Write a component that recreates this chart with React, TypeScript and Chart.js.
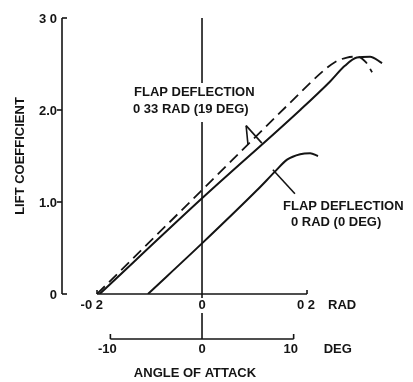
import React, { useEffect, useRef } from "react";
import { Chart, registerables } from "chart.js";

Chart.register(...registerables);

// ---- Data (angle of attack in rad, lift coefficient) ----
const flap0Alpha = [-0.103, 0, 0.105, 0.139, 0.162, 0.187, 0.206, 0.221];
const flap0CL = [0, 0.55, 1.13, 1.33, 1.46, 1.52, 1.53, 1.5];

const flap19Alpha = [-0.195, 0, 0.187, 0.244, 0.272, 0.295, 0.32, 0.343];
const flap19CL = [0, 1.04, 2.0, 2.31, 2.48, 2.57, 2.58, 2.51];

const flap19DashAlpha = [-0.2, 0, 0.168, 0.23, 0.253, 0.276, 0.295, 0.312, 0.324];
const flap19DashCL = [0, 1.13, 2.08, 2.42, 2.52, 2.57, 2.58, 2.52, 2.41];

// ---- Axis ticks ----
const clTicks = [0, 1, 2, 3];
const clTickLabels = ["0", "1.0", "2.0", "3 0"];
const radTicks = [-0.2, 0, 0.2];
const radTickLabels = ["-0 2", "0", "0 2"];
const degTicks = [-10, 0, 10];
const degTickLabels = ["-10", "0", "10"];

// ---- Texts ----
const yTitle = "LIFT COEFFICIENT";
const xTitle = "ANGLE OF ATTACK";
const radUnit = "RAD";
const degUnit = "DEG";
const label19 = ["FLAP DEFLECTION", "0 33 RAD (19 DEG)"];
const label0 = ["FLAP DEFLECTION", "0 RAD (0 DEG)"];

// leader line anchors in data space [alpha, CL]
const leader19Apex = [0.084, 1.83];
const leader19Feet = [
  [0.0876, 1.62],
  [0.114, 1.64],
];
const leader0 = [
  [0.135, 1.35],
  [0.177, 1.09],
];

const INK = "#141414";
const FONT = "bold 13px 'Liberation Sans', Arial, sans-serif";

const pts = (xs: number[], ys: number[]) => xs.map((x, i) => ({ x, y: ys[i] }));

const axesPlugin = {
  id: "engAxes",
  afterDatasetsDraw(chart: any) {
    const ctx: CanvasRenderingContext2D = chart.ctx;
    const xs = chart.scales.x;
    const ys = chart.scales.y;
    const X = (v: number) => xs.getPixelForValue(v);
    const Y = (v: number) => ys.getPixelForValue(v);
    const D = (d: number) => X((d * Math.PI) / 180);
    const line = (x1: number, y1: number, x2: number, y2: number) => {
      ctx.beginPath();
      ctx.moveTo(x1, y1);
      ctx.lineTo(x2, y2);
      ctx.stroke();
    };
    ctx.save();
    ctx.strokeStyle = INK;
    ctx.fillStyle = INK;
    ctx.lineWidth = 1.6;
    ctx.font = FONT;

    // Y axis
    const ax = chart.chartArea.left;
    line(ax, Y(3), ax, Y(0));
    line(ax, Y(3), ax + 5, Y(3));
    line(ax, Y(0), ax + 5, Y(0));
    [1, 2].forEach((v) => line(ax - 5, Y(v), ax, Y(v)));
    ctx.textAlign = "right";
    ctx.textBaseline = "middle";
    clTicks.forEach((v, i) => ctx.fillText(clTickLabels[i], ax - 5, Y(v) + 1));

    // Y title
    ctx.save();
    ctx.translate(20, (Y(3) + Y(0)) / 2);
    ctx.rotate(-Math.PI / 2);
    ctx.textAlign = "center";
    ctx.fillText(yTitle, 0, 0);
    ctx.restore();

    // RAD axis
    const ry = Y(0);
    const r0 = X(radTicks[0]);
    const r1 = X(radTicks[radTicks.length - 1]);
    line(r0, ry, r1, ry);
    line(r0, ry, r0, ry - 4);
    line(r1, ry, r1, ry - 4);
    ctx.textBaseline = "middle";
    const ly = ry + 11;
    ctx.textAlign = "right";
    ctx.fillText(radTickLabels[0], r0 + 6, ly);
    ctx.textAlign = "center";
    ctx.fillText(radTickLabels[1], X(radTicks[1]), ly);
    ctx.textAlign = "right";
    ctx.fillText(radTickLabels[2], r1 + 8, ly);
    ctx.textAlign = "left";
    ctx.fillText(radUnit, r1 + 21, ly);

    // DEG axis
    const dy = ry + 45;
    const d0 = D(degTicks[0]);
    const d1 = D(degTicks[degTicks.length - 1]);
    line(d0, dy, d1, dy);
    line(d0, dy, d0, dy - 5);
    line(d1, dy, d1, dy - 5);
    ctx.textAlign = "center";
    degTicks.forEach((d, i) => ctx.fillText(degTickLabels[i], D(d) - (d === 0 ? 0 : 3), dy + 10));
    ctx.textAlign = "left";
    ctx.fillText(degUnit, d1 + 30, dy + 10);
    ctx.textAlign = "center";
    ctx.fillText(xTitle, 195, dy + 34);

    // zero line
    const zx = X(0);
    line(zx, Y(3), zx, 83);
    line(zx, 122, zx, ry + 4);
    line(zx, ry + 19, zx, dy);

    // labels
    ctx.textAlign = "left";
    ctx.fillText(label19[0], 134, 92);
    ctx.fillText(label19[1], 133, 109);
    ctx.fillText(label0[0], 283, 206);
    ctx.fillText(label0[1], 291, 222);

    // leaders
    const ap = [X(leader19Apex[0]), Y(leader19Apex[1])];
    leader19Feet.forEach((f) => line(ap[0], ap[1], X(f[0]), Y(f[1])));
    line(X(leader0[0][0]), Y(leader0[0][1]), X(leader0[1][0]), Y(leader0[1][1]));

    ctx.restore();
  },
};

export default function App() {
  const ref = useRef<HTMLCanvasElement>(null);
  useEffect(() => {
    const common = {
      borderColor: INK,
      borderWidth: 2,
      pointRadius: 0,
      fill: false,
      cubicInterpolationMode: "monotone" as const,
    };
    const chart = new Chart(ref.current as HTMLCanvasElement, {
      type: "line",
      data: {
        datasets: [
          { ...common, label: "0 RAD (0 DEG)", data: pts(flap0Alpha, flap0CL) },
          { ...common, label: "0.33 RAD (19 DEG)", data: pts(flap19Alpha, flap19CL) },
          {
            ...common,
            label: "0.33 RAD (19 DEG) dashed",
            data: pts(flap19DashAlpha, flap19DashCL),
            borderDash: [11, 6],
            borderWidth: 1.8,
          },
        ],
      },
      options: {
        responsive: false,
        animation: false,
        events: [],
        layout: { padding: { left: 62, right: 18, top: 18, bottom: 88 } },
        scales: {
          x: { type: "linear", min: -0.2667, max: 0.3676, display: false },
          y: { type: "linear", min: 0, max: 3, display: false },
        },
        plugins: { legend: { display: false }, tooltip: { enabled: false } },
      },
      plugins: [axesPlugin],
    });
    return () => chart.destroy();
  }, []);
  return (
    <div style={{ position: "absolute", left: 0, top: 0, width: 413, height: 382, background: "#fff" }}>
      <canvas ref={ref} width={413} height={382} style={{ display: "block" }} />
    </div>
  );
}
